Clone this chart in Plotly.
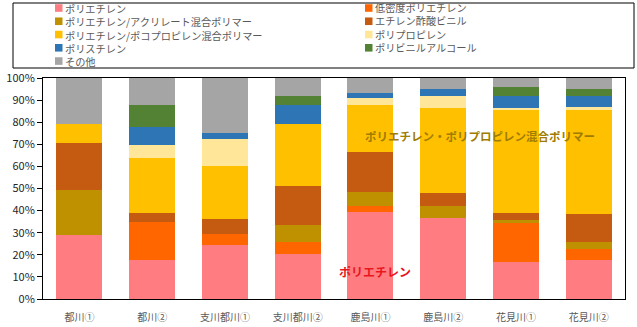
import plotly.graph_objects as go

categories = ["都川①", "都川②", "支川都川①", "支川都川②", "鹿島川①", "鹿島川②", "花見川①", "花見川②"]

series_names = [
    "ポリエチレン",
    "低密度ポリエチレン",
    "ポリエチレン/アクリレート混合ポリマー",
    "エチレン酢酸ビニル",
    "ポリエチレン/ポコプロピレン混合ポリマー",
    "ポリプロピレン",
    "ポリスチレン",
    "ポリビニルアルコール",
    "その他",
]
colors = ["#FF7C80", "#FF6600", "#BF9000", "#C55A11", "#FFC000", "#FFE699", "#2E75B6", "#548235", "#A5A5A5"]

pe        = [29.0, 17.6, 24.3, 20.3, 39.3, 36.6, 16.8, 17.6]
ldpe      = [0.0, 17.2, 5.0, 5.4, 2.7, 0.0, 17.6, 4.9]
acrylate  = [20.5, 0.0, 0.0, 7.6, 6.2, 5.3, 1.2, 3.3]
eva       = [21.0, 4.1, 6.7, 17.9, 18.2, 6.0, 3.3, 12.8]
pe_pp     = [8.5, 24.9, 24.4, 27.9, 21.3, 38.7, 46.5, 46.8]
pp        = [0.0, 6.0, 11.8, 0.0, 3.4, 5.3, 1.2, 1.5]
ps        = [0.0, 8.1, 3.0, 8.7, 2.3, 3.1, 5.3, 4.9]
pva       = [0.0, 9.9, 0.0, 4.1, 0.0, 0.0, 4.2, 3.4]
other     = [21.0, 12.2, 24.8, 8.1, 6.6, 5.0, 3.9, 4.8]

values = [pe, ldpe, acrylate, eva, pe_pp, pp, ps, pva, other]

y_ticks = [0, 10, 20, 30, 40, 50, 60, 70, 80, 90, 100]
y_tick_labels = [f"{v}%" for v in y_ticks]

FONT = "Noto Sans CJK JP"

fig = go.Figure()
for name, vals, col in zip(series_names, values, colors):
    fig.add_trace(go.Bar(x=categories, y=vals, name=name, marker=dict(color=col, line=dict(width=0)),
                         showlegend=False))

# plot area geometry (pixels)
L, R, T, B = 43, 12, 78, 28
W, H = 637, 327
pw = W - L - R
ph = H - T - B

def px_x(px):
    return (px - L) / pw

def px_y(py):
    return (H - B - py) / ph

shapes = []
annotations = []
# legend box
shapes.append(dict(type="rect", xref="paper", yref="paper",
                   x0=px_x(13), x1=px_x(634), y0=px_y(68), y1=px_y(3),
                   line=dict(color="black", width=1), fillcolor="white", layer="above"))
col_x = [55, 365]
LEG_FS = 10.2
row_step = 1.3 * LEG_FS
row_y = [8 + k * row_step for k in range(5)]
for c in range(2):
    idx = list(range(c, len(series_names), 2))
    for r, i in enumerate(idx):
        yc = row_y[r]
        shapes.append(dict(type="rect", xref="paper", yref="paper",
                           x0=px_x(col_x[c]), x1=px_x(col_x[c] + 7.5),
                           y0=px_y(yc + 3.8), y1=px_y(yc - 3.8),
                           line=dict(width=0), fillcolor=colors[i], layer="above"))
    yc_mid = (row_y[0] + row_y[len(idx) - 1]) / 2
    annotations.append(dict(xref="paper", yref="paper", x=px_x(col_x[c] + 9), y=px_y(yc_mid),
                            text="<br>".join(series_names[i] for i in idx),
                            showarrow=False, xanchor="left", yanchor="middle", align="left",
                            borderpad=0,
                            font=dict(family=FONT, size=LEG_FS, color="#595959")))

annotations.append(dict(x=5.5, y=73.9, xref="x", yref="y",
                        text="<b>ポリエチレン・ポリプロピレン混合ポリマー</b>", showarrow=False,
                        height=14,
                        font=dict(family=FONT, size=11.5, color="#A07C00")))
annotations.append(dict(x=4.06, y=12.6, xref="x", yref="y",
                        text="<b>ポリエチレン</b>", showarrow=False,
                        height=14,
                        font=dict(family=FONT, size=12, color="#E8171F")))

fig.update_layout(
    barmode="stack",
    bargap=0.368,
    width=W, height=H,
    margin=dict(l=L, r=R, t=T, b=B, pad=0),
    paper_bgcolor="white",
    plot_bgcolor="white",
    font=dict(family=FONT, size=11, color="#404040"),
    shapes=shapes,
    annotations=annotations,
    xaxis=dict(showline=True, linecolor="black", linewidth=1, mirror=True, automargin=False,
               ticks="", ticklabelstandoff=9, tickfont=dict(size=10, color="#595959"), showgrid=False),
    yaxis=dict(range=[0, 100], tickvals=y_ticks, ticktext=y_tick_labels, automargin=False,
               showline=True, linecolor="black", linewidth=1, mirror=True,
               ticks="outside", ticklen=5, tickcolor="black",
               tickfont=dict(size=11, color="#262626"), showgrid=False),
)

fig.write_html("out.html")
